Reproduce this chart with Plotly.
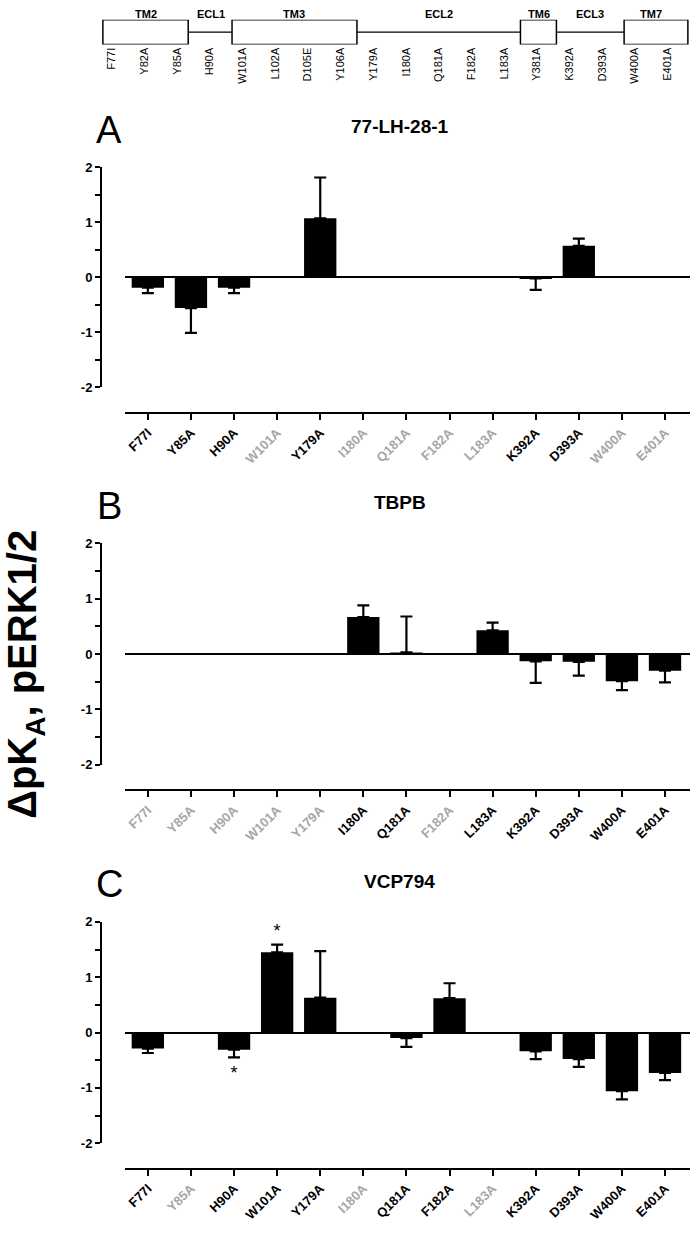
import plotly.graph_objects as go

# ---------------- data ----------------
mutants = ["F77I", "Y85A", "H90A", "W101A", "Y179A", "I180A", "Q181A",
           "F182A", "L183A", "K392A", "D393A", "W400A", "E401A"]

# panel A: 77-LH-28-1 (None = not tested, grey label)
a_vals = [-0.19, -0.56, -0.19, None, 1.07, None, None, None, None, -0.02, 0.57, None, None]
a_errs = [0.10, 0.45, 0.10, None, 0.74, None, None, None, None, 0.21, 0.13, None, None]

# panel B: TBPB
b_vals = [None, None, None, None, None, 0.67, 0.03, None, 0.43, -0.13, -0.14, -0.49, -0.30]
b_errs = [None, None, None, None, None, 0.21, 0.65, None, 0.14, 0.39, 0.25, 0.16, 0.21]

# panel C: VCP794
c_vals = [-0.29, None, -0.31, 1.45, 0.63, None, -0.10, 0.62, None, -0.34, -0.48, -1.06, -0.73]
c_errs = [0.08, None, 0.14, 0.14, 0.84, None, 0.16, 0.27, None, 0.14, 0.14, 0.15, 0.13]
c_sig_cat = ["H90A", "W101A"]
c_sig_y = [-0.76, 1.80]

panel_titles = ["77-LH-28-1", "TBPB", "VCP794"]
panel_letters = ["A", "B", "C"]
y_ticks = [-2, -1, 0, 1, 2]

# schematic
schem_mutants = ["F77I", "Y82A", "Y85A", "H90A", "W101A", "L102A", "D105E", "Y106A",
                 "Y179A", "I180A", "Q181A", "F182A", "L183A", "Y381A", "K392A",
                 "D393A", "W400A", "E401A"]
region_names = ["TM2", "ECL1", "TM3", "ECL2", "TM6", "ECL3", "TM7"]
region_label_pos = [1.05, 3.04, 5.58, 10.0, 13.07, 14.63, 16.5]
tm_boxes = [(-0.27, 2.34), (3.68, 7.5), (12.5, 13.6), (15.67, 17.62)]

# ---------------- layout helpers ----------------
W, H = 693, 1247
def py(px):
    return 1 - px / H

FONT = "Arial, Liberation Sans, sans-serif"
GREY = "#a6a6a6"

fig = go.Figure()

panels = [
    dict(vals=a_vals, errs=a_errs, top=162, bot=385, xline=411),
    dict(vals=b_vals, errs=b_errs, top=543, bot=767, xline=793),
    dict(vals=c_vals, errs=c_errs, top=926, bot=1150, xline=1176),
]

x_dom = [125 / W, 690 / W]
x_rng = [-0.53, 12.58]

for i, p in enumerate(panels):
    k = i + 1
    xa = "x" if k == 1 else f"x{k}"
    ya = "y" if k == 1 else f"y{k}"
    vals, errs = p["vals"], p["errs"]
    plus = [(e if (v is not None and v > 0) else 0) if e is not None else 0 for v, e in zip(vals, errs)]
    minus = [(e if (v is not None and v <= 0) else 0) if e is not None else 0 for v, e in zip(vals, errs)]
    fig.add_trace(go.Bar(
        x=mutants, y=vals, xaxis=xa, yaxis=ya, width=0.75,
        marker=dict(color="black", line=dict(width=0)),
        error_y=dict(type="data", symmetric=False, array=plus, arrayminus=minus,
                     color="black", thickness=2.2, width=6),
        showlegend=False, hoverinfo="skip",
    ))
    ticktext = [
        (f"<span style='color:black'>{m}</span>" if v is not None
         else f"<span style='color:{GREY}'>{m}</span>")
        for m, v in zip(mutants, vals)
    ]
    xkey = "xaxis" if k == 1 else f"xaxis{k}"
    ykey = "yaxis" if k == 1 else f"yaxis{k}"
    fig.update_layout(**{
        xkey: dict(domain=x_dom, range=x_rng, anchor="free", position=py(p["xline"]),
                   type="category", categoryorder="array", categoryarray=mutants,
                   tickvals=mutants, ticktext=ticktext, tickangle=-45,
                   showline=True, linecolor="black", linewidth=2,
                   ticks="outside", ticklen=6, tickwidth=2, tickcolor="black",
                   tickfont=dict(family=FONT, size=13, color="black", weight="bold"),
                   showgrid=False, zeroline=False, fixedrange=True),
        ykey: dict(domain=[py(p["bot"]), py(p["top"])], range=[-2, 2],
                   anchor="free", position=101 / W,
                   tickvals=y_ticks, ticktext=[str(t) for t in y_ticks],
                   showline=True, linecolor="black", linewidth=2,
                   ticks="outside", ticklen=5, tickwidth=2, tickcolor="black",
                   minor=dict(dtick=0.5, ticks="outside", ticklen=5, tickwidth=2, tickcolor="black"),
                   tickfont=dict(family=FONT, size=13, color="black", weight="bold"),
                   showgrid=False, zeroline=True, zerolinecolor="black", zerolinewidth=2,
                   fixedrange=True),
    })
    # titles and letters
    fig.add_annotation(x=400 / W, y=py(p["top"] - 41), xref="paper", yref="paper",
                       text=panel_titles[i], showarrow=False,
                       font=dict(family=FONT, size=19, color="black", weight="bold"),
                       xanchor="center", yanchor="middle")
    fig.add_annotation(x=109 / W, y=py(p["top"] - 38), xref="paper", yref="paper",
                       text=panel_letters[i], showarrow=False,
                       font=dict(family=FONT, size=38, color="black"),
                       xanchor="center", yanchor="middle")

# significance asterisks (panel C)
fig.add_trace(go.Scatter(x=c_sig_cat, y=c_sig_y, xaxis="x3", yaxis="y3", mode="text",
                         text=["*"] * len(c_sig_cat), textposition="middle center",
                         textfont=dict(family=FONT, size=18, color="black"),
                         showlegend=False, hoverinfo="skip"))

# shared y-axis title
fig.add_annotation(x=25 / W, y=py(676), xref="paper", yref="paper",
                   text="ΔpK<sub>A</sub>, pERK1/2", textangle=-90, showarrow=False,
                   font=dict(family=FONT, size=40, color="black", weight="bold"),
                   xanchor="center", yanchor="middle")

# ---------------- schematic ----------------
s_idx = list(range(len(schem_mutants)))
fig.add_trace(go.Scatter(x=s_idx, y=[0.5] * len(s_idx), xaxis="x4", yaxis="y4",
                         mode="markers", marker=dict(opacity=0), showlegend=False,
                         hoverinfo="skip"))
fig.update_layout(
    xaxis4=dict(domain=[0, 1], range=[-111.7 / 32.7, (W - 111.7) / 32.7], anchor="y4",
                tickvals=s_idx, ticktext=schem_mutants, tickangle=-90,
                tickfont=dict(family=FONT, size=11, color="black"),
                showline=False, showgrid=False, zeroline=False, ticks="", fixedrange=True),
    yaxis4=dict(domain=[py(38), py(13)], range=[0, 1], visible=False, fixedrange=True),
)
shapes = [dict(type="line", xref="x4", yref="y4", x0=tm_boxes[0][1], x1=tm_boxes[-1][0],
               y0=0.5, y1=0.5, line=dict(color="black", width=1.2))]
for x0, x1 in tm_boxes:
    shapes.append(dict(type="rect", xref="x4", yref="y4", x0=x0, x1=x1, y0=0, y1=1,
                       line=dict(color="black", width=1.5), fillcolor="white"))
fig.update_layout(shapes=shapes)
for name, xp in zip(region_names, region_label_pos):
    fig.add_annotation(x=xp, y=py(7), xref="x4", yref="paper", text=name, showarrow=False,
                       font=dict(family=FONT, size=11, color="black", weight="bold"),
                       xanchor="center", yanchor="middle")

fig.update_layout(width=W, height=H, margin=dict(l=0, r=0, t=0, b=0),
                  paper_bgcolor="white", plot_bgcolor="white", bargap=0.25)

fig.write_html("out.html", config={"displayModeBar": False},
               post_script="document.body.style.margin='0';")
